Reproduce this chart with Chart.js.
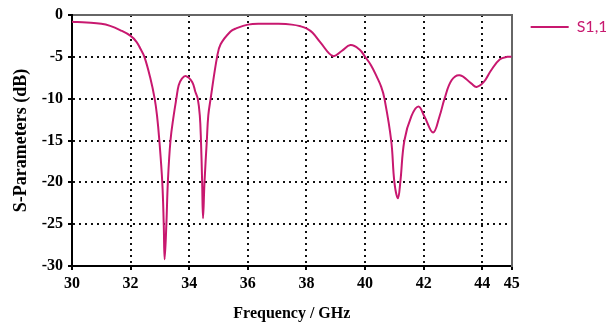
<!DOCTYPE html>
<html>
<head>
<meta charset="utf-8">
<script src="https://cdn.jsdelivr.net/npm/chart.js@4/dist/chart.umd.min.js"></script>
<style>
  html, body { margin: 0; padding: 0; background: #ffffff; }
  #wrap { width: 606px; height: 323px; position: relative; }
</style>
</head>
<body>
<div id="wrap"><canvas id="c" width="606" height="323"></canvas></div>
<script>
// Frequency samples (GHz)
const freqGHz = [
  30, 30.5, 31, 31.3, 31.64, 32.0, 32.2, 32.33, 32.47, 32.67, 32.82, 32.9, 32.98, 33.08, 33.13,
  33.16, 33.22, 33.27, 33.36, 33.47, 33.56, 33.64, 33.75, 33.89, 34.1, 34.21, 34.29, 34.36,
  34.4, 34.44, 34.47, 34.52, 34.6, 34.65, 34.73, 34.95, 35.07, 35.4, 35.6, 36.0, 36.5, 37.0,
  37.5, 37.8, 38.0, 38.2, 38.48, 38.9, 39.2, 39.5, 39.8, 40.0, 40.2, 40.4, 40.55, 40.66, 40.89,
  41.0, 41.12, 41.2, 41.34, 41.58, 41.82, 42.02, 42.32, 42.54, 42.71, 42.95, 43.23, 43.63,
  43.8, 44.05, 44.3, 44.6, 44.85, 45
];
// S1,1 values (dB)
const s11dB = [
  -0.8, -0.9, -1.05, -1.3, -1.8, -2.5, -3.2, -4.0, -5.0, -7.5, -10, -12, -15, -20, -25,
  -29.2, -25, -20, -15, -12, -10, -8.4, -7.6, -7.3, -8.0, -9.2, -10, -12,
  -15, -20, -24.3, -20, -15, -12, -10, -5.0, -3.5, -2.0, -1.6, -1.15, -1.05, -1.05,
  -1.15, -1.35, -1.6, -2.1, -3.3, -4.9, -4.3, -3.6, -4.1, -5.0, -6.0, -7.4, -8.6, -10, -15,
  -20, -21.9, -20, -15, -12.1, -10.95, -12.1, -14.05, -12.1, -10, -7.8, -7.2, -8.2,
  -8.6, -8.0, -6.6, -5.3, -5.0, -5.0
];
const xTickValues = [30, 32, 34, 36, 38, 40, 42, 44, 45];
const yTickValues = [0, -5, -10, -15, -20, -25, -30];
const seriesLabel = 'S1,1';

const lineColor = '#C8186F';
const tickFont = { family: '"Liberation Serif", "Times New Roman", serif', size: 16, weight: 'bold' };

const points = freqGHz.map((f, i) => ({ x: f, y: s11dB[i] }));

new Chart(document.getElementById('c'), {
  type: 'line',
  data: {
    datasets: [{
      label: seriesLabel,
      data: points,
      borderColor: lineColor,
      backgroundColor: lineColor,
      borderWidth: 2,
      pointRadius: 0,
      tension: 0.4,
      fill: false
    }]
  },
  options: {
    responsive: false,
    animation: false,
    devicePixelRatio: 1,
    layout: { padding: { left: 0, right: -8, top: 0, bottom: 0 } },
    plugins: {
      tooltip: { enabled: false },
      legend: {
        display: true,
        position: 'right',
        align: 'start',
        labels: {
          boxWidth: 38,
          boxHeight: 2,
          padding: 19,
          color: lineColor,
          font: { family: 'Lato, "Open Sans", sans-serif', size: 16 },
          generateLabels: (chart) => Chart.defaults.plugins.legend.labels.generateLabels(chart)
            .map(l => Object.assign(l, { lineWidth: 0, fontColor: lineColor }))
        }
      }
    },
    scales: {
      x: {
        type: 'linear',
        position: 'bottom',
        min: 30,
        max: 45,
        afterBuildTicks: (s) => { s.ticks = xTickValues.map(v => ({ value: v })); },
        afterFit: (s) => { s.height = 57; },
        ticks: {
          font: tickFont,
          color: '#000',
          padding: 4,
          maxRotation: 0,
          autoSkip: false,
          callback: (v) => String(v)
        },
        grid: {
          drawTicks: true,
          tickLength: 4,
          tickColor: '#000',
          tickWidth: 2,
          tickBorderDash: [],
          lineWidth: 2,
          color: (ctx) => (ctx.tick && (ctx.tick.value === 30 || ctx.tick.value === 45)) ? 'rgba(0,0,0,0)' : '#111'
        },
        border: { display: true, color: '#000', width: 2, dash: [2, 4] },
        title: {
          display: true,
          text: 'Frequency / GHz',
          color: '#000',
          font: { family: '"Liberation Serif", "Times New Roman", serif', size: 16, weight: 'bold' },
          padding: { top: 2, bottom: 0 }
        }
      },
      xTop: {
        type: 'linear',
        position: 'top',
        min: 30,
        max: 45,
        ticks: { display: false },
        grid: { display: false, drawTicks: false },
        border: { display: true, color: '#666', width: 2 },
        afterFit: (s) => { s.height = 15; }
      },
      y: {
        type: 'linear',
        position: 'left',
        min: -30,
        max: 0,
        afterBuildTicks: (s) => { s.ticks = yTickValues.map(v => ({ value: v })); },
        afterFit: (s) => { s.width = 72; },
        ticks: {
          font: tickFont,
          color: '#000',
          padding: 5,
          callback: (v) => String(v)
        },
        grid: {
          drawTicks: true,
          tickLength: 4,
          tickColor: '#000',
          tickWidth: 2,
          tickBorderDash: [],
          lineWidth: 2,
          color: (ctx) => (ctx.tick && (ctx.tick.value === 0 || ctx.tick.value === -30)) ? 'rgba(0,0,0,0)' : '#111'
        },
        border: { display: true, color: '#000', width: 2, dash: [2, 4] },
        title: {
          display: true,
          text: 'S-Parameters (dB)',
          color: '#000',
          font: { family: '"Liberation Serif", "Times New Roman", serif', size: 18, weight: 'bold' },
          padding: { top: 11, bottom: 0 }
        }
      },
      yRight: {
        type: 'linear',
        position: 'right',
        min: -30,
        max: 0,
        ticks: { display: false },
        grid: { display: false, drawTicks: false },
        border: { display: true, color: '#666', width: 2 },
        afterFit: (s) => { s.width = 0; }
      }
    }
  }
});
</script>
</body>
</html>
